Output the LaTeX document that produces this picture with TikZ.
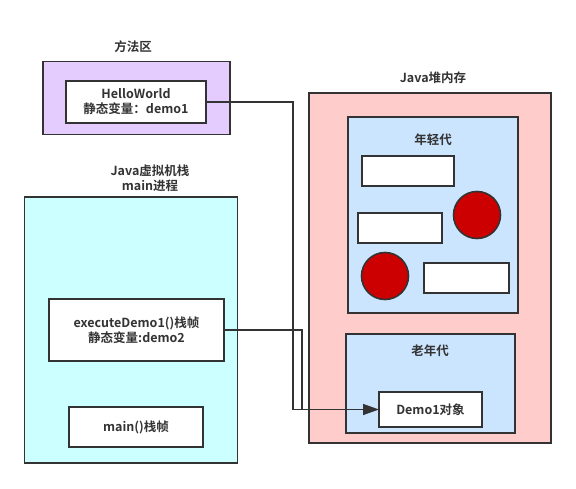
\documentclass[tikz,border=0pt]{standalone}
\usepackage{fontspec}
\setmainfont{Noto Sans CJK SC}[BoldFont={Noto Sans CJK SC Bold}]
\usetikzlibrary{arrows.meta}
\definecolor{strk}{HTML}{333333}
\definecolor{purp}{HTML}{E5CCFF}
\definecolor{cyanf}{HTML}{CCFFFF}
\definecolor{pinkf}{HTML}{FFCCCC}
\definecolor{bluef}{HTML}{CCE5FF}
\definecolor{redf}{HTML}{CC0000}
\tikzset{
  box/.style={draw=strk, line width=1.6pt, inner sep=0pt, outer sep=0pt},
  wbox/.style={box, fill=white, align=center, font=\fontsize{12.5}{15}\selectfont\bfseries, text=strk},
  lbl/.style={align=center, font=\fontsize{12.5}{15}\selectfont\bfseries, text=strk, inner sep=0pt},
  ball/.style={draw=strk, line width=1.6pt, fill=redf, circle, minimum size=47pt, inner sep=0pt},
  conn/.style={draw=strk, line width=1.4pt},
}
\begin{document}
\begin{tikzpicture}[x=1pt,y=-1pt]
\useasboundingbox (0,0) rectangle (576,489);
% method area
\node[box, fill=purp, minimum width=187pt, minimum height=73pt] (ma) at (136.5,98) {};
\node[lbl] (malbl) at (133,47) {方法区};
\node[wbox, minimum width=140pt, minimum height=42pt] (hw) at (136,102) {HelloWorld\\静态变量：demo1};
% stack
\node[lbl] (stlbl) at (150,178) {Java虚拟机栈\\main进程};
\node[box, fill=cyanf, minimum width=213pt, minimum height=266pt] (st) at (131,330) {};
\node[wbox, minimum width=175pt, minimum height=62pt] (ex) at (136.5,330) {executeDemo1()栈帧\\静态变量:demo2};
\node[wbox, minimum width=134pt, minimum height=40pt] (mn) at (136,427) {main()栈帧};
% heap
\node[lbl] (hplbl) at (433,78) {Java堆内存};
\node[box, fill=pinkf, minimum width=242pt, minimum height=350pt] (hp) at (430,268) {};
\node[box, fill=bluef, minimum width=170pt, minimum height=196pt] (yg) at (433,215) {};
\node[lbl] (yglbl) at (433,140) {年轻代};
\node[box, fill=white, minimum width=92pt, minimum height=30pt] (r1) at (408,171) {};
\node[box, fill=white, minimum width=84pt, minimum height=30pt] (r2) at (400,228) {};
\node[box, fill=white, minimum width=85pt, minimum height=30pt] (r3) at (466.5,278) {};
\node[ball] (c1) at (477,215) {};
\node[ball] (c2) at (385,276) {};
\node[box, fill=bluef, minimum width=169pt, minimum height=99pt] (og) at (430.5,383.5) {};
\node[lbl] (oglbl) at (430,351) {老年代};
\node[wbox, minimum width=103pt, minimum height=35pt] (demo) at (430.5,409.5) {Demo1对象};
% connectors
\draw[conn] (hw.east) -- ++(87,0) coordinate (p1) |- (demo.west);
\draw[conn, -{Triangle[length=16pt,width=11pt]}] (ex.east) -- ++(78,0) coordinate (p2) |- (demo.west);
\end{tikzpicture}
\end{document}
